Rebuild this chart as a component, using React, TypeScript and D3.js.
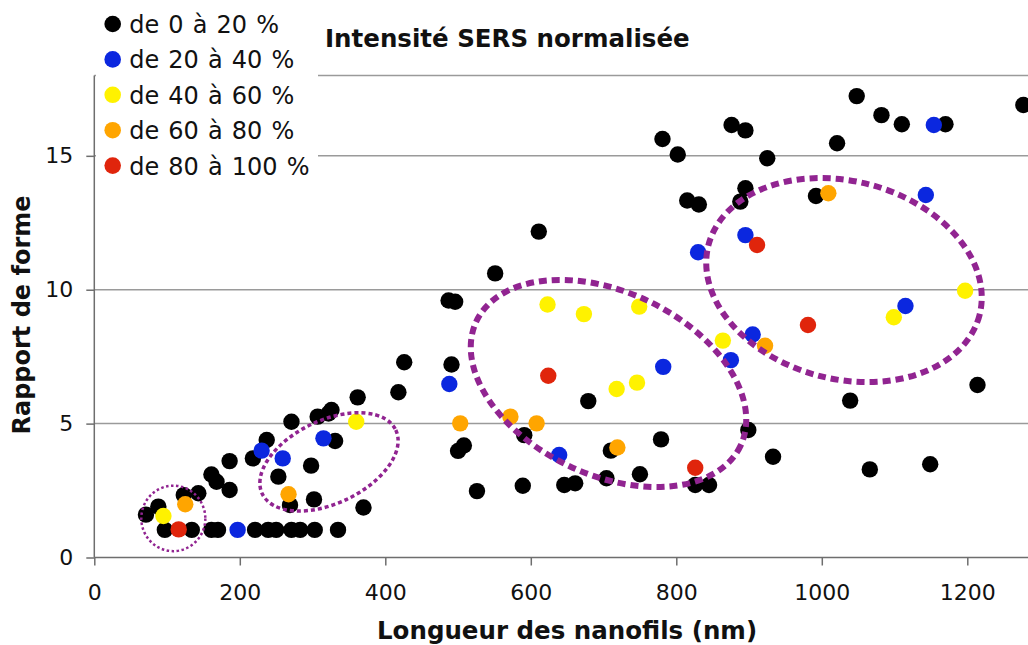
import * as d3 from "d3";
import { useEffect, useRef } from "react";

const width = 1028;
const height = 645;

// [longueur des nanofils (nm), rapport de forme]
const de0a20: [number, number][] = [
  [71, 1.6], [88, 1.9], [97, 1.03], [123, 2.33], [134, 1.03], [143, 2.4],
  [161, 1.03], [170, 1.03], [161, 3.1], [168, 2.83], [186, 2.52], [186, 3.6],
  [221, 1.03], [239, 1.03], [250, 1.03], [271, 1.03], [283, 1.03], [303, 1.03],
  [335, 1.03], [218, 3.7], [237, 4.39], [253, 3.02], [269, 1.96], [302, 2.17],
  [298, 3.43], [271, 5.07], [307, 5.26], [322, 5.38], [326, 5.51], [331, 4.35],
  [362, 5.98], [370, 1.87], [418, 6.17], [426, 7.29], [491, 7.21], [500, 3.98],
  [508, 4.18], [487, 9.6], [496, 9.55], [551, 10.61], [611, 12.17], [591, 4.57],
  [526, 2.48], [589, 2.68], [646, 2.71], [661, 2.77], [679, 5.84], [704, 2.96],
  [710, 3.99], [750, 3.11], [779, 4.41], [826, 2.71], [845, 2.71], [899, 4.76],
  [933, 3.76], [1039, 5.86], [1066, 3.29], [1149, 3.48], [1214, 6.44],
  [781, 15.63], [802, 15.05], [876, 16.15], [895, 15.95], [1048, 17.23],
  [1082, 16.52], [1110, 16.18], [1170, 16.18], [1277, 16.9], [1021, 15.47],
  [925, 14.91], [895, 13.79], [888, 13.29], [815, 13.33], [831, 13.18], [992, 13.5],
];
const de20a40: [number, number][] = [
  [197, 1.03], [230, 3.99], [259, 3.7], [315, 4.45], [488, 6.48], [639, 3.83],
  [782, 7.12], [875, 7.37], [905, 8.33], [830, 11.4], [895, 12.04], [1143, 13.54],
  [1115, 9.39], [1154, 16.15],
];
const de40a60: [number, number][] = [
  [95, 1.55], [360, 5.07], [623, 9.45], [673, 9.09], [749, 9.37], [718, 6.29],
  [746, 6.53], [864, 8.1], [1099, 8.97], [1197, 9.96],
];
const de60a80: [number, number][] = [
  [125, 1.99], [267, 2.36], [503, 5.01], [572, 5.26], [608, 5.01], [719, 4.11],
  [922, 7.91], [1009, 13.6],
];
const de80a100: [number, number][] = [
  [116, 1.05], [624, 6.79], [826, 3.35], [911, 11.67], [981, 8.68],
];

const series = [de0a20, de20a40, de40a60, de60a80, de80a100];
const labels = ["de 0 à 20 %", "de 20 à 40 %", "de 40 à 60 %", "de 60 à 80 %", "de 80 à 100 %"];
const colors = ["#000000", "#0b27df", "#fff200", "#ffa500", "#e0250c"];

const xTicks = [0, 200, 400, 600, 800, 1000, 1200];
const yTicks = [0, 5, 10, 15];

// zones entourées : centre (nm, rapport), demi-axes en nm, rotation en degrés
const zones = [
  { cx: 108.6, cy: 1.46, a: 44, b: 45, rot: 0, w: 2.5, dash: "2.5 2.5" },
  { cx: 322.6, cy: 3.57, a: 101.7, b: 57, rot: -25.5, w: 3.5, dash: "4 3" },
  { cx: 706.8, cy: 6.5, a: 200.7, b: 125.8, rot: 25.2, w: 6, dash: "8 5" },
  { cx: 1030.5, cy: 10.36, a: 192.4, b: 136, rot: 14.5, w: 6, dash: "8 5" },
];

const font = "Verdana, 'DejaVu Sans', sans-serif";

const App = () => {
  const ref = useRef<SVGSVGElement>(null);

  useEffect(() => {
    if (!ref.current) return;
    ref.current.innerHTML = "";

    const x = d3.scaleLinear().domain([0, 1400]).range([94.3, 94.3 + 1400 * 0.7275]);
    const y = d3.scaleLinear().domain([0, 18]).range([557.5, 75.5]);

    const svg = d3.select(ref.current)
      .attr("width", width)
      .attr("height", height)
      .style("font-family", font);

    svg.append("rect").attr("width", width).attr("height", height).attr("fill", "#fff");

    // grille horizontale + bord supérieur
    svg.append("g")
      .selectAll("line")
      .data([5, 10, 15, 18])
      .join("line")
        .attr("x1", x(0)).attr("x2", width)
        .attr("y1", d => y(d)).attr("y2", d => y(d))
        .attr("stroke", "#9a9a9a")
        .attr("stroke-width", 1.5);

    // fond blanc de la légende
    svg.append("rect")
      .attr("x", 96).attr("y", 0)
      .attr("width", 222).attr("height", 185)
      .attr("fill", "#fff");

    // axes
    const xAxis = svg.append("g")
      .attr("transform", `translate(0,${y(0)})`)
      .call(d3.axisBottom(x).tickValues(xTicks).tickFormat(d3.format("d"))
        .tickSize(8).tickSizeOuter(0).tickPadding(19));
    const yAxis = svg.append("g")
      .attr("transform", `translate(${x(0)},0)`)
      .call(d3.axisLeft(y).tickValues(yTicks).tickSize(8).tickSizeOuter(0).tickPadding(13));

    for (const ax of [xAxis, yAxis]) {
      ax.select(".domain").attr("stroke", "#6e6e6e").attr("stroke-width", 1.5);
      ax.selectAll(".tick line").attr("stroke", "#6e6e6e").attr("stroke-width", 1.5);
      ax.selectAll(".tick text")
        .attr("fill", "#111")
        .style("font-family", font)
        .style("font-size", "22px");
    }
    // prolonger l'axe x jusqu'au bord
    xAxis.select(".domain").attr("d", `M${x(0)},0H${width}`);
    yAxis.select(".domain").attr("d", `M0,${y(18)}V${y(0)}`);

    // points
    series.forEach((pts, i) => {
      svg.append("g")
        .selectAll("circle")
        .data(pts)
        .join("circle")
          .attr("cx", d => x(d[0]))
          .attr("cy", d => y(d[1]))
          .attr("r", 8.2)
          .attr("fill", colors[i]);
    });

    // ellipses pointillées
    svg.append("g")
      .selectAll("ellipse")
      .data(zones)
      .join("ellipse")
        .attr("cx", d => x(d.cx))
        .attr("cy", d => y(d.cy))
        .attr("rx", d => x(d.a) - x(0))
        .attr("ry", d => x(d.b) - x(0))
        .attr("transform", d => `rotate(${d.rot},${x(d.cx)},${y(d.cy)})`)
        .attr("fill", "none")
        .attr("stroke", "#912491")
        .attr("stroke-width", d => d.w)
        .attr("stroke-dasharray", d => d.dash);

    // légende
    const leg = svg.append("g")
      .selectAll("g")
      .data(labels)
      .join("g")
        .attr("transform", (d, i) => `translate(112.7,${24 + i * 35.4})`);
    leg.append("circle")
      .attr("r", 8.3)
      .attr("fill", (d, i) => colors[i]);
    leg.append("text")
      .attr("x", 16.5)
      .attr("y", 9)
      .attr("fill", "#111")
      .attr("word-spacing", 1.5)
      .style("font-size", "24px")
      .text(d => d);

    // titres
    svg.append("text")
      .attr("x", 325).attr("y", 47)
      .attr("font-weight", "bold")
      .style("font-size", "24.5px")
      .attr("fill", "#111")
      .text("Intensité SERS normalisée");

    svg.append("text")
      .attr("x", 377).attr("y", 639)
      .attr("font-weight", "bold")
      .style("font-size", "24.5px")
      .attr("fill", "#111")
      .text("Longueur des nanofils (nm)");

    svg.append("text")
      .attr("transform", `translate(30,315) rotate(-90)`)
      .attr("text-anchor", "middle")
      .attr("font-weight", "bold")
      .style("font-size", "24px")
      .attr("fill", "#111")
      .text("Rapport de forme");
  }, []);

  return (
    <svg
      ref={ref}
      style={{ position: "absolute", left: 0, top: 0, display: "block" }}
    />
  );
};

export default App;
